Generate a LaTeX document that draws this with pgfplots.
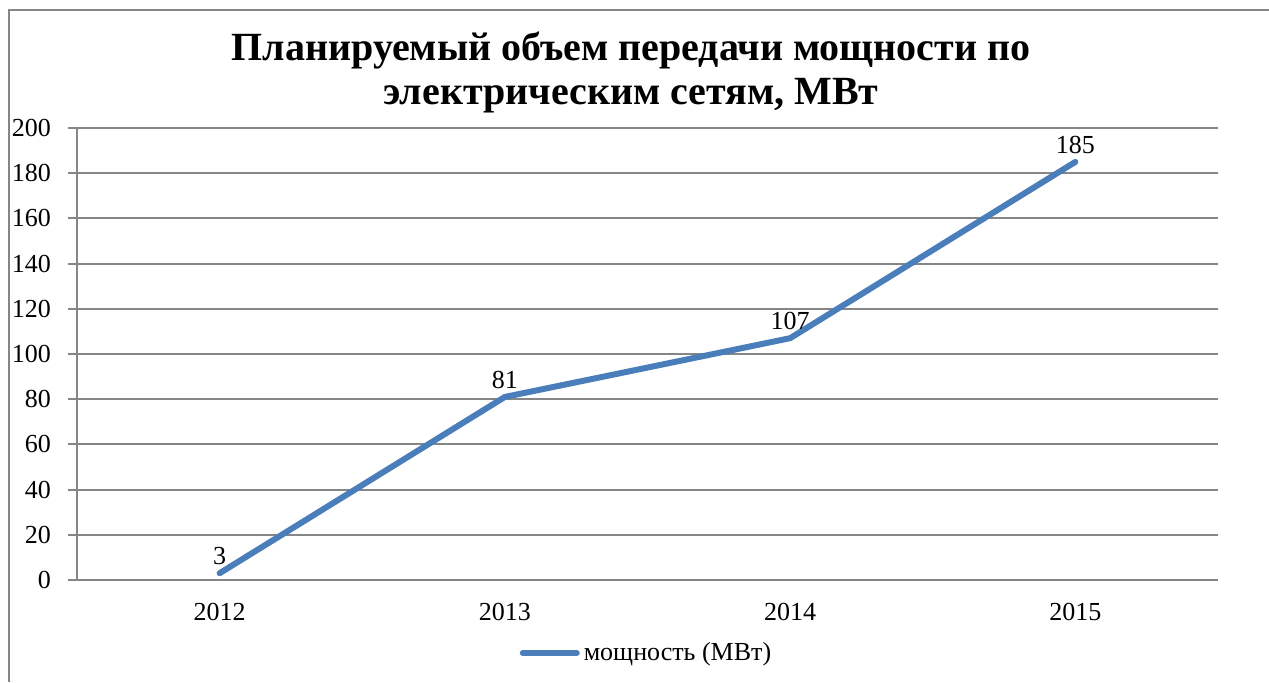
\documentclass[border=0pt]{standalone}
\usepackage{fontspec}
\setmainfont{Liberation Serif}
\usepackage{pgfplots}
\pgfplotsset{compat=1.18}
\definecolor{serblue}{RGB}{74,126,187}
\definecolor{gridgray}{RGB}{134,134,134}
\begin{document}
\begin{tikzpicture}
\path[use as bounding box] (0,0) rectangle (634.5pt,341pt);
\draw[gridgray, line width=1pt] (4.5pt,0) -- (4.5pt,336pt) -- (634.5pt,336pt);
\node[align=center, font=\fontsize{20}{22}\selectfont\bfseries] at (315.5pt,305pt)
  {Планируемый объем передачи мощности по\\электрическим сетям, МВт};
\begin{axis}[
  at={(38.5pt,51pt)}, anchor=south west,
  scale only axis, width=570.5pt, height=226pt,
  xmin=-0.5, xmax=3.5, ymin=0, ymax=200,
  xtick={0,1,2,3}, xticklabels={2012,2013,2014,2015},
  xtick style={draw=none},
  minor xtick={-0.5,0.5,1.5,2.5,3.5},
  minor x tick style={gridgray, line width=1pt},
  minor tick length=4.5pt,
  ytick={0,20,...,200},
  ytick style={gridgray, line width=1pt},
  major tick length=4.5pt,
  tick align=outside,
  axis x line*=bottom, axis y line*=left,
  axis line style={gridgray, line width=1pt, -},
  ymajorgrids, grid style={gridgray, line width=1pt},
  /pgf/number format/assume math mode=true,
  ticklabel style={font=\fontsize{13}{15}\selectfont},
  yticklabel style={xshift=-5pt},
  xticklabel style={yshift=-3.5pt},
  legend style={at={(0.5,-0.1615)}, anchor=center, draw=none, fill=none,
    font=\fontsize{13}{15}\selectfont, legend columns=1},
  legend image code/.code={\draw[#1, line cap=round] (0pt,0pt) -- (27pt,0pt);},
  nodes near coords,
  every node near coord/.style={font=\fontsize{13}{15}\selectfont, anchor=center, yshift=8.5pt, black},
]
\addplot[serblue, line width=3pt, line cap=round, line join=round, mark=none] coordinates {
  (0,3) (1,81) (2,107) (3,185)
};
\addlegendentry{мощность (МВт)}
\end{axis}
\end{tikzpicture}
\end{document}
